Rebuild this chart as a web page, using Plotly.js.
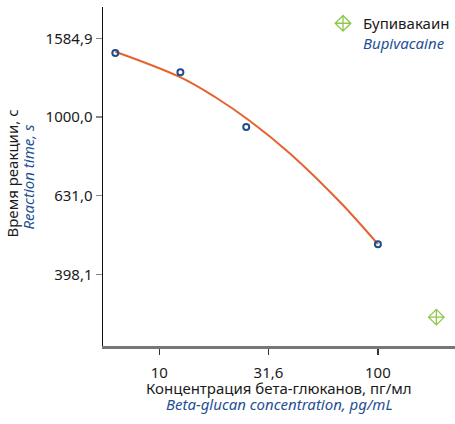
<!DOCTYPE html>
<html>
<head>
<meta charset="utf-8">
<script src="https://cdn.plot.ly/plotly-3.0.1.min.js"></script>
<style>html,body{margin:0;padding:0;background:#fff;}#chart{width:455px;height:424px;}</style>
</head>
<body>
<div id="chart"></div>
<script>
// Measured points (beta-glucan concentration, pg/mL vs reaction time, s)
const concentration = [6.3, 12.5, 25, 100];
const reactionTime = [1455, 1299, 943, 475];

// Fitted trend curve
const fitConcentration = [6.3, 12.4, 18, 26.0, 39.6, 67.1, 100];
const fitTime = [1465, 1264, 1124, 977, 808, 608, 475];

// Bupivacaine reference point
const bupivacaineX = [185];
const bupivacaineY = [310];

// Tick values and labels
const xTickVals = [10, 31.6, 100];
const xTickText = ['10', '31,6', '100'];
const yTickVals = [398.1, 631.0, 1000.0, 1584.9];
const yTickText = ['398,1', '631,0', '1000,0', '1584,9'];

const FONT = 'Noto Sans, Open Sans, sans-serif';
const BLUE = '#1f5193';

const traces = [
  {
    x: fitConcentration, y: fitTime, mode: 'lines', type: 'scatter',
    line: {color: '#e5622d', width: 2, shape: 'spline', smoothing: 1},
    showlegend: false, hoverinfo: 'skip'
  },
  {
    x: concentration, y: reactionTime, mode: 'markers', type: 'scatter',
    marker: {symbol: 'circle-open', size: 6, color: '#1d4f8f', line: {width: 2, color: '#1d4f8f'}},
    showlegend: false
  },
  {
    x: bupivacaineX, y: bupivacaineY, mode: 'markers', type: 'scatter',
    name: 'Бупивакаин<br><i><span style="color:' + BLUE + '">Bupivacaine</span></i>',
    marker: {symbol: 'diamond-cross-open', size: 12, color: '#8cc84b', line: {width: 1.3, color: '#8cc84b'}},
    showlegend: true
  }
];

const layout = {
  width: 455, height: 424,
  margin: {l: 103, r: 0, t: 7, b: 78, pad: 0},
  paper_bgcolor: '#fff', plot_bgcolor: '#fff',
  font: {family: FONT, size: 15, color: '#1a1a1a'},
  showlegend: true,
  legend: {
    x: 0.625, y: 1.0, xanchor: 'left', yanchor: 'top',
    bgcolor: 'rgba(0,0,0,0)', borderwidth: 0,
    font: {family: FONT, size: 15, color: '#1a1a1a'},
    valign: 'top'
  },
  xaxis: {
    type: 'log', range: [0.743, 2.3525],
    tickmode: 'array', tickvals: xTickVals, ticktext: xTickText,
    ticks: 'outside', ticklen: 6, tickwidth: 1.2, tickcolor: '#333',
    ticklabelstandoff: 5,
    showline: true, linecolor: '#777', linewidth: 2.5,
    showgrid: false, zeroline: false, automargin: false,
    tickfont: {family: FONT, size: 15, color: '#1a1a1a'}
  },
  yaxis: {
    type: 'log', range: [2.418, 3.2795],
    tickmode: 'array', tickvals: yTickVals, ticktext: yTickText,
    ticks: 'outside', ticklen: 6, tickwidth: 1.5, tickcolor: '#888',
    showline: true, linecolor: '#111', linewidth: 1.5,
    showgrid: false, zeroline: false, automargin: false,
    tickfont: {family: FONT, size: 15, color: '#1a1a1a'}
  },
  annotations: [
    {text: 'Концентрация бета-глюканов, пг/мл', xref: 'paper', yref: 'paper', x: 0.5, y: 0,
     xanchor: 'center', yanchor: 'middle', yshift: -42, showarrow: false,
     font: {family: FONT, size: 15, color: '#1a1a1a'}},
    {text: '<i>Beta-glucan concentration, pg/mL</i>', xref: 'paper', yref: 'paper', x: 0.5, y: 0,
     xanchor: 'center', yanchor: 'middle', yshift: -58, showarrow: false,
     font: {family: FONT, size: 15, color: BLUE}},
    {text: 'Время реакции, с', xref: 'paper', yref: 'paper', x: 0, y: 0.5,
     xanchor: 'center', yanchor: 'middle', xshift: -92, yshift: 3, textangle: -90, showarrow: false,
     font: {family: FONT, size: 15, color: '#1a1a1a'}},
    {text: '<i>Reaction time, s</i>', xref: 'paper', yref: 'paper', x: 0, y: 0.5,
     xanchor: 'center', yanchor: 'middle', xshift: -76, yshift: -1, textangle: -90, showarrow: false,
     font: {family: FONT, size: 15, color: BLUE}}
  ]
};

Plotly.newPlot('chart', traces, layout, {displayModeBar: false, staticPlot: true});
</script>
</body>
</html>
